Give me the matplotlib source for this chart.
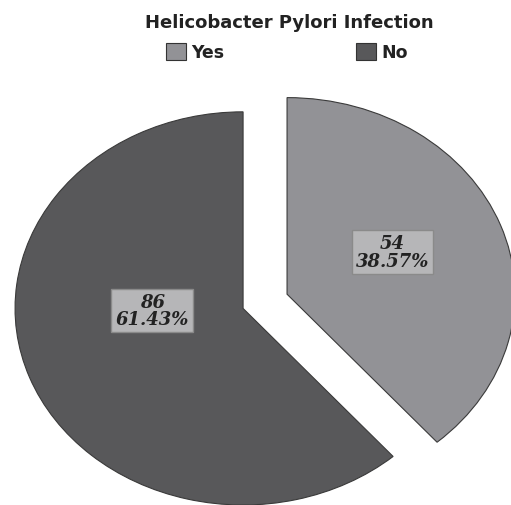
import matplotlib.pyplot as plt
from matplotlib.patches import Patch

categories = ['Yes', 'No']
counts = [54, 86]
percents = [38.57, 61.43]
colors = ['#929296', '#58585a']

plt.rcParams['font.family'] = ['DejaVu Sans']

fig = plt.figure(figsize=(5.11, 5.06), dpi=100)
ax = fig.add_axes([0, 0, 1, 1])

wedges, _ = ax.pie(counts, colors=colors, startangle=90, counterclock=False,
                   explode=[0.206, 0],
                   wedgeprops=dict(edgecolor='#3a3a3a', linewidth=0.8))

ax.set_aspect('auto')
ax.set_xlim(-1.066, 1.175)
ax.set_ylim(-1.0, 1.574)
ax.axis('off')

# value labels in boxes
label_pos = [(0.654, 0.287), (-0.399, -0.01)]
for (x, y), n, p in zip(label_pos, counts, percents):
    ax.text(x, y, f'{n}\n{p:.2f}%', ha='center', va='center',
            family=['DejaVu Serif'],
            fontsize=13, fontweight='bold', fontstyle='italic',
            color='#222222', linespacing=0.95,
            bbox=dict(boxstyle='square,pad=0.22', facecolor='#b6b6b8',
                      edgecolor='#8a8a8a', linewidth=1))

fig.text(0.566, 0.955, 'Helicobacter Pylori Infection', ha='center', va='center',
         fontsize=13, fontweight='bold', color='#222222')

handles = [Patch(facecolor=c, edgecolor='#333333', linewidth=0.8) for c in colors]
leg = fig.legend(handles, categories, loc='center', bbox_to_anchor=(0.561, 0.895),
                 ncol=2, frameon=False, columnspacing=7.6, handlelength=1.15,
                 handleheight=1.1, handletextpad=0.3,
                 prop={'weight': 'bold', 'size': 12.5})
for t in leg.get_texts():
    t.set_color('#222222')

plt.savefig('out.png')
plt.close()
